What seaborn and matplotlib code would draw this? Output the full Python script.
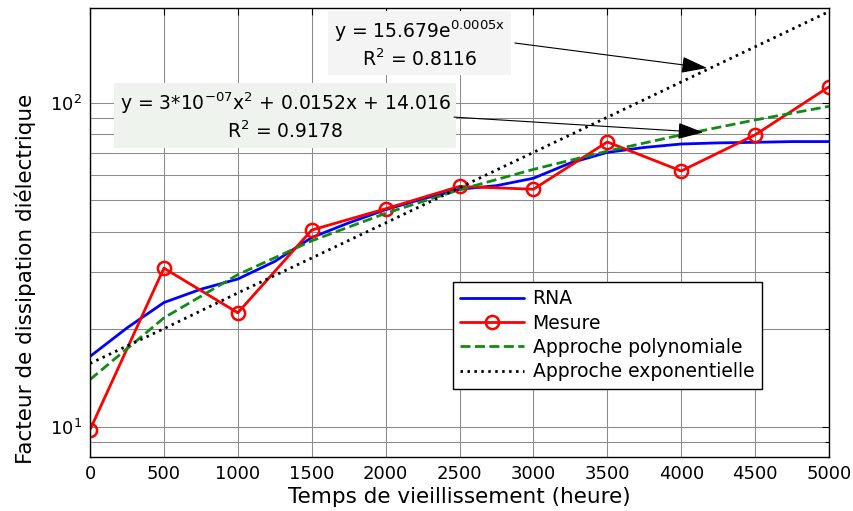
import matplotlib
matplotlib.use("Agg")
import matplotlib.pyplot as plt
import seaborn as sns
from matplotlib.ticker import FixedLocator, NullFormatter, LogFormatterMathtext

# Measured dissipation factor and the two fitted trends (every 500 h)
hours = [0, 500, 1000, 1500, 2000, 2500, 3000, 3500, 4000, 4500, 5000]
mesure = [9.8, 30.9, 22.5, 40.5, 47.1, 55.2, 54.1, 75.7, 61.6, 79.6, 112.0]
poly_fit = [14.0, 21.7, 29.5, 37.5, 45.6, 53.9, 62.3, 70.9, 79.6, 88.5, 97.5]
expo_fit = [15.7, 20.1, 25.9, 33.2, 42.6, 54.7, 70.3, 90.2, 115.9, 148.8, 191.1]

# Neural-network (RNA) prediction, every 250 h
rna_hours = [0, 250, 500, 750, 1000, 1250, 1500, 1750, 2000, 2250, 2500,
             2750, 3000, 3250, 3500, 3750, 4000, 4250, 4500, 4750, 5000]
rna = [16.5, 20.2, 24.2, 26.6, 28.6, 32.4, 38.4, 42.6, 46.8, 50.5, 54.1,
       55.5, 58.5, 65.2, 70.3, 72.8, 74.6, 75.2, 75.5, 75.9, 75.9]

x_ticks = [0, 500, 1000, 1500, 2000, 2500, 3000, 3500, 4000, 4500, 5000]
series_labels = ["RNA", "Mesure", "Approche polynomiale", "Approche exponentielle"]
poly_text = "y = 3*10$^{\\mathregular{-07}}$x$^{\\mathregular{2}}$ + 0.0152x + 14.016\nR$^{\\mathregular{2}}$ = 0.9178"
expo_text = "y = 15.679e$^{\\mathregular{0.0005x}}$\nR$^{\\mathregular{2}}$ = 0.8116"

sns.set_style("white")
plt.rcParams["font.family"] = ["DejaVu Sans"]
plt.rcParams["mathtext.fontset"] = "dejavusans"
plt.rcParams["text.color"] = "black"
plt.rcParams["axes.labelcolor"] = "black"
plt.rcParams["xtick.color"] = "black"
plt.rcParams["ytick.color"] = "black"

fig = plt.figure(figsize=(8.54, 5.11), dpi=100)
ax = fig.add_axes([0.10539, 0.10568, 0.86534, 0.87867])
ax.set_yscale("log")

sns.lineplot(x=rna_hours, y=rna, ax=ax, color="#0000ff", linewidth=2.0,
             label=series_labels[0], sort=False)
sns.lineplot(x=hours, y=mesure, ax=ax, color="#ff0000", linewidth=2.0,
             marker="o", markersize=9.5, markerfacecolor="none",
             markeredgecolor="#ff0000", markeredgewidth=1.8,
             label=series_labels[1], sort=False)
sns.lineplot(x=hours, y=poly_fit, ax=ax, color="#138a13", linewidth=2.0,
             linestyle=(0, (3.6, 1.6)), label=series_labels[2], sort=False)
sns.lineplot(x=hours, y=expo_fit, ax=ax, color="black", linewidth=2.0,
             linestyle=(0, (0.9, 1.6)), label=series_labels[3], sort=False)

ax.set_xlim(0, 5000)
ax.set_ylim(8.08, 196)
ax.xaxis.set_major_locator(FixedLocator(x_ticks))
ax.yaxis.set_major_locator(FixedLocator([10, 100]))
ax.yaxis.set_minor_locator(FixedLocator([9, 20, 30, 40, 50, 60, 70, 80, 90]))
ax.yaxis.set_major_formatter(LogFormatterMathtext())
ax.yaxis.set_minor_formatter(NullFormatter())

ax.tick_params(which="both", direction="in", top=True, right=True,
               colors="black", labelsize=13, pad=6)
ax.tick_params(which="major", length=5, width=0.8)
ax.tick_params(which="minor", length=3, width=0.8)

ax.grid(True, which="major", axis="both", color="#8a8a8a", linewidth=0.75)
ax.grid(True, which="minor", axis="y", color="#8a8a8a", linewidth=0.75)
ax.set_axisbelow(True)
for sp in ax.spines.values():
    sp.set_visible(True)
    sp.set_color("black")
    sp.set_linewidth(1.0)

ax.set_xlabel("Temps de vieillissement (heure)", fontsize=15.5, labelpad=3)
ax.set_ylabel("Facteur de dissipation diélectrique", fontsize=15.5)
ax.yaxis.set_label_coords(-0.073, 0.396)

# Fit equations with arrows pointing at their curves
ax.text(0.446, 0.920, expo_text, transform=ax.transAxes, ha="center", va="center",
        fontsize=13.5, linespacing=1.25, zorder=5,
        bbox=dict(boxstyle="square,pad=0.3", facecolor="#f4f4f4", edgecolor="none"))
ax.text(0.264, 0.759, poly_text, transform=ax.transAxes, ha="center", va="center",
        fontsize=13.5, linespacing=1.25, zorder=5,
        bbox=dict(boxstyle="square,pad=0.3", facecolor="#eef3ee", edgecolor="none"))
arrow = dict(arrowstyle="-|>,head_length=1.0,head_width=0.32", color="black",
             lw=0.8, mutation_scale=16, shrinkA=0, shrinkB=0)
ax.annotate("", xy=(4175, 128), xycoords="data",
            xytext=(0.575, 0.922), textcoords="axes fraction", arrowprops=arrow, zorder=6)
ax.annotate("", xy=(4150, 81), xycoords="data",
            xytext=(0.4926, 0.757), textcoords="axes fraction", arrowprops=arrow, zorder=6)

leg = ax.legend(loc="upper left", bbox_to_anchor=(0.491, 0.390), borderaxespad=0,
                fontsize=13.5, handlelength=3.4, handletextpad=0.45, borderpad=0.4,
                labelspacing=0.28, fancybox=False, framealpha=1, edgecolor="black")
leg.get_frame().set_linewidth(1.0)

fig.savefig("out.png", dpi=100)
